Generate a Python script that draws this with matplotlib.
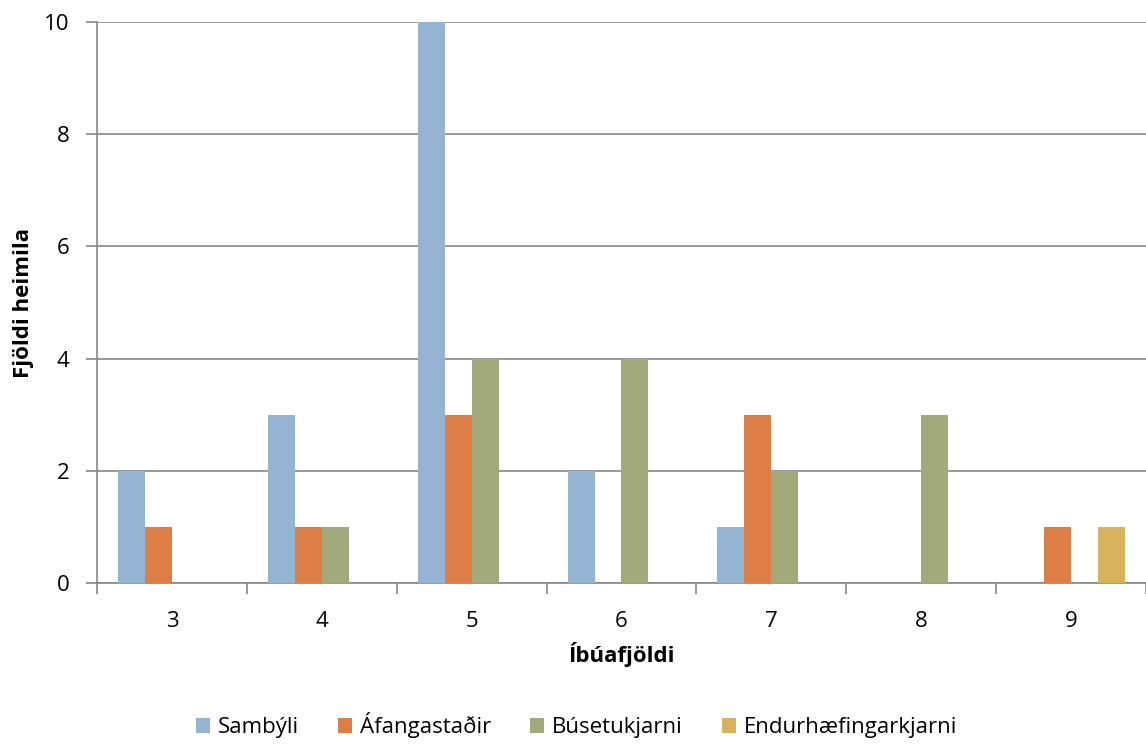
import numpy as np
import matplotlib
matplotlib.use("Agg")
import matplotlib.pyplot as plt

# data
categories = ["3", "4", "5", "6", "7", "8", "9"]
series_names = ["Sambýli", "Áfangastaðir", "Búsetukjarni", "Endurhæfingarkjarni"]
sambyli = [2, 3, 10, 2, 1, 0, 0]
afangastadir = [1, 1, 3, 0, 3, 0, 1]
busetukjarni = [0, 1, 4, 4, 2, 3, 0]
endurhaefing = [0, 0, 0, 0, 0, 0, 1]
colors = ["#95B3D3", "#DD7E47", "#A2AA7C", "#D8B25C"]

plt.rcParams['font.family'] = ['Open Sans', 'DejaVu Sans']

fig = plt.figure(figsize=(11.46, 7.45), dpi=100)
ax = fig.add_axes([0.0846, 0.2174, 0.9154, 0.7531])

x = np.arange(len(categories))
width = 0.18
for i, (vals, name, c) in enumerate(zip([sambyli, afangastadir, busetukjarni, endurhaefing],
                                        series_names, colors)):
    ax.bar(x + (i - 1.5) * width, vals, width=width, color=c, label=name, zorder=3)

grid_col = "#878787"
ax.set_ylim(0, 10)
ax.set_xlim(-0.5, len(categories) - 0.5)
ax.set_yticks([0, 2, 4, 6, 8, 10])
ax.yaxis.grid(True, color=grid_col, linewidth=1.2, zorder=0)

# category boundaries as major ticks, labels at centres
ax.set_xticks(np.arange(-0.5, len(categories), 1.0))
ax.set_xticklabels([])
ax.set_xticks(x, minor=True)
ax.set_xticklabels(categories, minor=True)
ax.tick_params(axis='x', which='major', length=8, width=1.2, color=grid_col, direction='out')
ax.tick_params(axis='x', which='minor', length=0, pad=20, labelsize=16)
ax.tick_params(axis='y', length=8, width=1.2, color=grid_col, pad=12, labelsize=16)

for side in ['top', 'right']:
    ax.spines[side].set_visible(False)
for side in ['left', 'bottom']:
    ax.spines[side].set_color(grid_col)
    ax.spines[side].set_linewidth(1.2)

ax.set_xlabel("Íbúafjöldi", fontsize=16, fontweight='bold', labelpad=7)
ax.set_ylabel("Fjöldi heimila", fontsize=16, fontweight='bold', labelpad=7)

fig.legend(loc='lower center', bbox_to_anchor=(0.503, -0.018), ncol=4, frameon=False,
           fontsize=16, handlelength=0.63, handleheight=0.63, handletextpad=0.36,
           columnspacing=1.75)

fig.savefig("out.png", dpi=100)
